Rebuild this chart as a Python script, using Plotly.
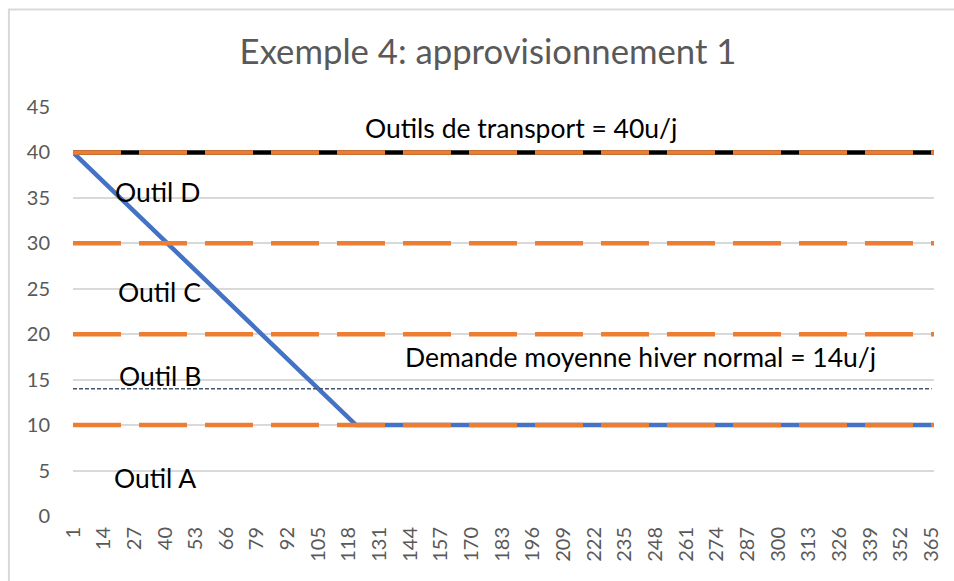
import plotly.graph_objects as go

# Days of the year and the tick labels shown along the axis (every 13 days)
days = list(range(1, 366))
tick_days = days[::13]

# Supply tool thresholds (u/j), drawn as dashed orange levels
tool_levels = [10, 20, 30, 40]
# Total transport capacity (u/j)
transport_capacity = 40
# Average demand for a normal winter (u/j)
winter_demand = 14
# Supply curve breakpoints: (day, u/j)
supply_days = [1, 121, 365]
supply_values = [40, 10, 10]

# Text labels: (text, day at left edge, value)
labels = [
    ("Outils de transport = 40u/j", 124, 42.7),
    ("Outil D", 17.8, 35.6),
    ("Outil C", 19.1, 24.7),
    ("Outil B", 19.5, 15.4),
    ("Outil A", 17.4, 4.2),
    ("Demande moyenne hiver normal = 14u/j", 140.7, 17.5),
]

ORANGE = "#ED7D31"
BLUE = "#4472C4"
NAVY = "#44546A"
GREY = "#595959"
GRID = "#D9D9D9"
FONT = "Lato"

fig = go.Figure()

# Transport capacity (solid black, under the orange dashes)
fig.add_trace(go.Scatter(
    x=[days[0], days[-1] + 1], y=[transport_capacity, transport_capacity],
    mode="lines", line=dict(color="black", width=4.5), hoverinfo="skip",
))

# Supply curve
fig.add_trace(go.Scatter(
    x=supply_days, y=supply_values,
    mode="lines", line=dict(color=BLUE, width=4.5), hoverinfo="skip",
))

# Tool thresholds
for lvl in tool_levels:
    fig.add_trace(go.Scatter(
        x=[days[0], days[-1] + 1], y=[lvl, lvl],
        mode="lines", line=dict(color=ORANGE, width=4.5, dash="48px,18px"),
        hoverinfo="skip",
    ))

# Winter demand
fig.add_trace(go.Scatter(
    x=[days[0], days[-1]], y=[winter_demand, winter_demand],
    mode="lines", line=dict(color=NAVY, width=1.5, dash="4px,2px"),
    hoverinfo="skip",
))

for text, dx, vy in labels:
    fig.add_annotation(
        x=dx, y=vy, text=text, showarrow=False,
        xanchor="left", yanchor="middle",
        font=dict(family=FONT, size=26.5, color="black"),
    )

# Outer chart border
fig.add_shape(
    type="rect", xref="paper", yref="paper",
    x0=-0.0744, x1=1.03, y0=-0.2, y1=1.2384,
    line=dict(color=GRID, width=2), layer="below",
)

fig.update_layout(
    width=954, height=581,
    margin=dict(l=73, r=14, t=107, b=65),
    paper_bgcolor="white", plot_bgcolor="white",
    showlegend=False,
    title=dict(
        text="Exemple 4: approvisionnement 1",
        xref="container", yref="container", x=0.5115, y=0.91,
        xanchor="center", yanchor="middle",
        font=dict(family=FONT, size=34.7, color=GREY),
    ),
    xaxis=dict(
        range=[1, 366], tickmode="array", tickvals=tick_days,
        ticktext=[str(d) for d in tick_days], tickangle=-90,
        showgrid=False, zeroline=False, showline=False, ticks="",
        ticklabelstandoff=6,
        tickfont=dict(family=FONT, size=20, color=GREY),
    ),
    yaxis=dict(
        range=[0, 45], tickmode="array", tickvals=list(range(0, 50, 5)),
        showgrid=True, gridcolor=GRID, gridwidth=1.5, zeroline=False,
        showline=False, ticks="", ticklen=0, ticklabelstandoff=22,
        tickfont=dict(family=FONT, size=20, color=GREY),
    ),
)

fig.write_html("out.html")
